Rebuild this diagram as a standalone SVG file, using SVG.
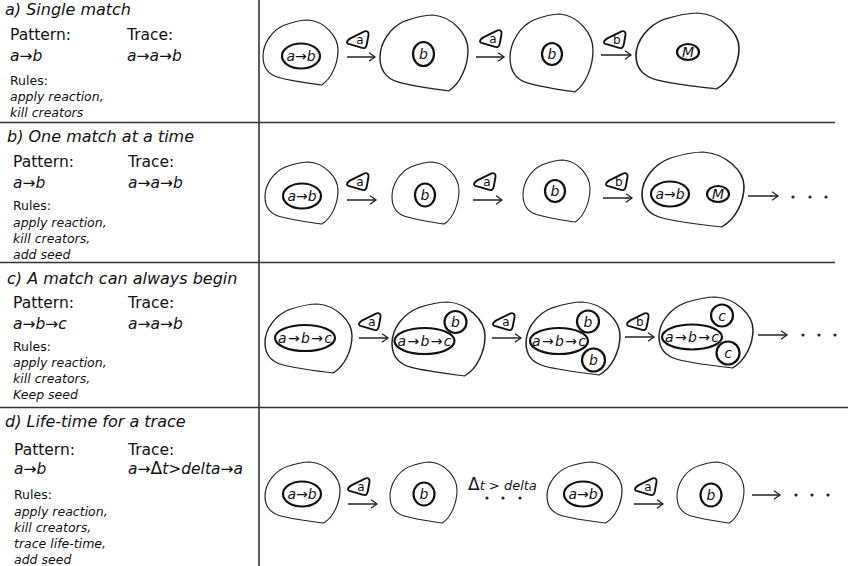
<svg xmlns="http://www.w3.org/2000/svg" xmlns:xlink="http://www.w3.org/1999/xlink" width="850" height="566" viewBox="0 0 850 566">
<defs>
<style>
text{font-family:"DejaVu Sans","Verdana",sans-serif;fill:#111}
.ttl{font-size:16px;font-style:italic}
.hd{font-size:15.5px}
.it15{font-size:15.5px;font-style:italic}
.rl{font-size:12.5px}
.ri{font-size:12.5px;font-style:italic}
.cell{fill:none;stroke:#222;stroke-width:1.6;vector-effect:non-scaling-stroke}
.in{fill:none;stroke:#111;stroke-width:2.2}
.ct{font-size:14px;font-style:italic;text-anchor:middle}
.tk{fill:#fff;stroke:#111;stroke-width:1.9;stroke-linejoin:round}
.tkt{font-size:12px;text-anchor:middle}
.arw{stroke:#222;stroke-width:1.5;fill:none;marker-end:url(#ah)}
.sep{stroke:#333;stroke-width:1.6}
.dot{fill:#222}
</style>
<marker id="ah" markerWidth="10" markerHeight="12" refX="8" refY="6" orient="auto" markerUnits="userSpaceOnUse">
<path d="M2,1.8 Q6,4.5 8,6 Q6,7.5 2,10.2" fill="none" stroke="#222" stroke-width="1.3"/>
</marker>
<path id="blob" d="M 0,56 C 0,36 12,16 28,8 C 40,3 50,0 60,0 C 82,2 100,25 100,46 C 100,66 92,90 78,100 C 60,97 38,94 20,88 C 6,83 0,72 0,56 Z"/>
<path id="tok" d="M -10.5,3.3 C -12,1.6 -10,0 -7.7,-1.6 L 5.5,-8.2 C 8.8,-9.9 11,-8.2 10.5,-5 L 8.8,4.4 C 8.2,7.7 6.6,8.8 3.3,7.7 L -7.7,4.4 C -9.4,4 -10,3.8 -10.5,3.3 Z"/>
</defs>
<rect width="850" height="566" fill="#fff"/>

<g id="frame">
<line class="sep" x1="259" y1="0" x2="259" y2="566"/>
<line class="sep" x1="0" y1="122.5" x2="835" y2="122.5"/>
<line class="sep" x1="0" y1="262.5" x2="835" y2="262.5"/>
<line class="sep" x1="0" y1="407.5" x2="848" y2="407.5"/>
</g>

<g id="panel-a-text">
<text class="ttl" x="5" y="15">a) Single match</text>
<text class="hd" x="10" y="40">Pattern:</text>
<text class="hd" x="127" y="40">Trace:</text>
<text class="it15" x="10" y="61">a→b</text>
<text class="it15" x="127" y="61">a→a→b</text>
<text class="rl" x="10" y="85">Rules:</text>
<text class="ri" x="10" y="101">apply reaction,</text>
<text class="ri" x="10" y="117">kill creators</text>
</g>
<g id="panel-b-text">
<text class="ttl" x="7" y="142">b) One match at a time</text>
<text class="hd" x="13" y="167">Pattern:</text>
<text class="hd" x="128" y="167">Trace:</text>
<text class="it15" x="13" y="188">a→b</text>
<text class="it15" x="128" y="188">a→a→b</text>
<text class="rl" x="13" y="210">Rules:</text>
<text class="ri" x="13" y="227">apply reaction,</text>
<text class="ri" x="13" y="243">kill creators,</text>
<text class="ri" x="13" y="259">add seed</text>
</g>
<g id="panel-c-text">
<text class="ttl" x="7" y="284">c) A match can always begin</text>
<text class="hd" x="13" y="308">Pattern:</text>
<text class="hd" x="128" y="308">Trace:</text>
<text class="it15" x="13" y="329">a→b→c</text>
<text class="it15" x="128" y="329">a→a→b</text>
<text class="rl" x="13" y="351">Rules:</text>
<text class="ri" x="13" y="367">apply reaction,</text>
<text class="ri" x="13" y="383">kill creators,</text>
<text class="ri" x="13" y="399">Keep seed</text>
</g>
<g id="panel-d-text">
<text class="ttl" x="5" y="427">d) Life-time for a trace</text>
<text class="hd" x="14" y="455">Pattern:</text>
<text class="hd" x="128" y="455">Trace:</text>
<text class="it15" x="14" y="474">a→b</text>
<text class="it15" x="128" y="474">a→<tspan font-style="normal" font-size="17">Δ</tspan>t&gt;delta→a</text>
<text class="rl" x="14" y="499">Rules:</text>
<text class="ri" x="14" y="516">apply reaction,</text>
<text class="ri" x="14" y="532">kill creators,</text>
<text class="ri" x="14" y="548">trace life-time,</text>
<text class="ri" x="14" y="564">add seed</text>
</g>

<!-- Row a -->
<g id="a1"><use href="#blob" class="cell" transform="translate(263,20) scale(0.75,0.65)"/><ellipse class="in" cx="301" cy="56" rx="19" ry="12.5"/><text class="ct" x="301" y="61">a→b</text></g>
<g id="a2"><use href="#blob" class="cell" transform="translate(380,15) scale(0.88,0.76)"/><ellipse class="in" cx="423.5" cy="54" rx="10.5" ry="12"/><text class="ct" x="423.5" y="59">b</text></g>
<g id="a3"><use href="#blob" class="cell" transform="translate(510,14) scale(0.83,0.78)"/><ellipse class="in" cx="552" cy="54" rx="10" ry="11"/><text class="ct" x="552" y="59">b</text></g>
<g id="a4"><use href="#blob" class="cell" transform="translate(636,13) scale(1.03,0.76)"/><ellipse class="in" cx="688" cy="52" rx="11" ry="8"/><text class="ct" x="688" y="57" font-size="13">M</text></g>

<!-- Row b -->
<g id="b1"><use href="#blob" class="cell" transform="translate(265,162) scale(0.73,0.62)"/><ellipse class="in" cx="302" cy="196" rx="19" ry="12.5"/><text class="ct" x="302" y="201">a→b</text></g>
<g id="b2"><use href="#blob" class="cell" transform="translate(392,162) scale(0.67,0.62)"/><ellipse class="in" cx="425" cy="195" rx="10" ry="11.5"/><text class="ct" x="425" y="200">b</text></g>
<g id="b3"><use href="#blob" class="cell" transform="translate(523,160) scale(0.67,0.62)"/><ellipse class="in" cx="555" cy="191" rx="10" ry="11"/><text class="ct" x="555" y="196">b</text></g>
<g id="b4"><use href="#blob" class="cell" transform="translate(642,152) scale(1.02,0.75)"/><ellipse class="in" cx="670" cy="194" rx="19" ry="12.5"/><text class="ct" x="670" y="199">a→b</text><ellipse class="in" cx="718" cy="194" rx="11" ry="8"/><text class="ct" x="718" y="199" font-size="13">M</text></g>

<!-- Row c -->
<g id="c1"><use href="#blob" class="cell" transform="translate(265,304) scale(0.87,0.69)"/><ellipse class="in" cx="305" cy="338" rx="30" ry="13"/><text class="ct" x="305" y="343" textLength="54" lengthAdjust="spacing">a→b→c</text></g>
<g id="c2"><use href="#blob" class="cell" transform="translate(392,302) scale(0.93,0.74)"/><ellipse class="in" cx="424.5" cy="341" rx="30" ry="13"/><text class="ct" x="424.5" y="346" textLength="54" lengthAdjust="spacing">a→b→c</text><circle class="in" cx="455.5" cy="322" r="11"/><text class="ct" x="455.5" y="327">b</text></g>
<g id="c3"><use href="#blob" class="cell" transform="translate(526,302) scale(0.94,0.73)"/><ellipse class="in" cx="559" cy="341" rx="29" ry="13"/><text class="ct" x="559" y="346" textLength="54" lengthAdjust="spacing">a→b→c</text><circle class="in" cx="588" cy="321.5" r="11"/><text class="ct" x="588" y="326.5">b</text><circle class="in" cx="593.5" cy="360" r="11.5"/><text class="ct" x="593.5" y="365">b</text></g>
<g id="c4"><use href="#blob" class="cell" transform="translate(659,297) scale(0.94,0.71)"/><ellipse class="in" cx="692" cy="337" rx="30" ry="12.5"/><text class="ct" x="692" y="342" textLength="54" lengthAdjust="spacing">a→b→c</text><circle class="in" cx="722" cy="315.5" r="11"/><text class="ct" x="722" y="320.5">c</text><circle class="in" cx="728" cy="353" r="11.5"/><text class="ct" x="728" y="358">c</text></g>

<!-- Row d -->
<g id="d1"><use href="#blob" class="cell" transform="translate(265,462) scale(0.75,0.61)"/><ellipse class="in" cx="302" cy="494" rx="19" ry="12.5"/><text class="ct" x="302" y="499">a→b</text></g>
<g id="d2"><use href="#blob" class="cell" transform="translate(390,462) scale(0.67,0.61)"/><ellipse class="in" cx="424" cy="494" rx="10.5" ry="11.5"/><text class="ct" x="424" y="499">b</text></g>
<g id="d3"><use href="#blob" class="cell" transform="translate(547,462) scale(0.75,0.61)"/><ellipse class="in" cx="583" cy="494" rx="19" ry="12.5"/><text class="ct" x="583" y="499">a→b</text></g>
<g id="d4"><use href="#blob" class="cell" transform="translate(677,462) scale(0.67,0.61)"/><ellipse class="in" cx="711" cy="495" rx="10.5" ry="11.5"/><text class="ct" x="711" y="500">b</text></g>

<g id="connectors">
<line class="arw" x1="347" y1="57" x2="375" y2="57"/>
<line class="arw" x1="476" y1="57" x2="504" y2="57"/>
<line class="arw" x1="601" y1="55" x2="631" y2="55"/>
<line class="arw" x1="347" y1="200" x2="376" y2="200"/>
<line class="arw" x1="473" y1="200" x2="502" y2="200"/>
<line class="arw" x1="603" y1="198" x2="632" y2="198"/>
<line class="arw" x1="748" y1="196" x2="778" y2="196"/>
<line class="arw" x1="359" y1="338" x2="388" y2="338"/>
<line class="arw" x1="492" y1="338" x2="521" y2="338"/>
<line class="arw" x1="625" y1="337" x2="654" y2="337"/>
<line class="arw" x1="758" y1="335" x2="787" y2="335"/>
<line class="arw" x1="348" y1="504" x2="377" y2="504"/>
<line class="arw" x1="634" y1="504" x2="663" y2="504"/>
<line class="arw" x1="752" y1="495" x2="780" y2="495"/>
</g>

<g id="tokens">
<g transform="translate(358,40)"><use href="#tok" class="tk"/><text class="tkt" x="1.8" y="4.3" font-size="13">a</text></g>
<g transform="translate(491,39)"><use href="#tok" class="tk"/><text class="tkt" x="1.8" y="4.3" font-size="13">a</text></g>
<g transform="translate(615,40)"><use href="#tok" class="tk"/><text class="tkt" x="1.8" y="4.3" font-size="13">b</text></g>
<g transform="translate(358,182)"><use href="#tok" class="tk"/><text class="tkt" x="1.8" y="4.3" font-size="13">a</text></g>
<g transform="translate(485,182)"><use href="#tok" class="tk"/><text class="tkt" x="1.8" y="4.3" font-size="13">a</text></g>
<g transform="translate(617,182)"><use href="#tok" class="tk"/><text class="tkt" x="1.8" y="4.3" font-size="13">b</text></g>
<g transform="translate(370,322)"><use href="#tok" class="tk"/><text class="tkt" x="1.8" y="4.3" font-size="13">a</text></g>
<g transform="translate(504,322)"><use href="#tok" class="tk"/><text class="tkt" x="1.8" y="4.3" font-size="13">a</text></g>
<g transform="translate(638,322)"><use href="#tok" class="tk"/><text class="tkt" x="1.8" y="4.3" font-size="13">b</text></g>
<g transform="translate(359,487)"><use href="#tok" class="tk"/><text class="tkt" x="1.8" y="4.3" font-size="13">a</text></g>
<g transform="translate(646,487)"><use href="#tok" class="tk"/><text class="tkt" x="1.8" y="4.3" font-size="13">a</text></g>
</g>

<g id="ellipses">
<circle class="dot" cx="793" cy="197" r="1.6"/><circle class="dot" cx="810" cy="197" r="1.6"/><circle class="dot" cx="826" cy="197" r="1.6"/>
<circle class="dot" cx="803" cy="335" r="1.6"/><circle class="dot" cx="819" cy="335" r="1.6"/><circle class="dot" cx="835" cy="335" r="1.6"/>
<circle class="dot" cx="796" cy="495" r="1.6"/><circle class="dot" cx="812" cy="495" r="1.6"/><circle class="dot" cx="828" cy="495" r="1.6"/>
<circle class="dot" cx="487" cy="498" r="1.6"/><circle class="dot" cx="503" cy="498" r="1.6"/><circle class="dot" cx="520" cy="498" r="1.6"/>
</g>
<g id="delta-label">
<text x="468" y="490"><tspan font-size="17">Δ</tspan><tspan font-size="13" font-style="italic">t &gt; delta</tspan></text>
</g>
</svg>
